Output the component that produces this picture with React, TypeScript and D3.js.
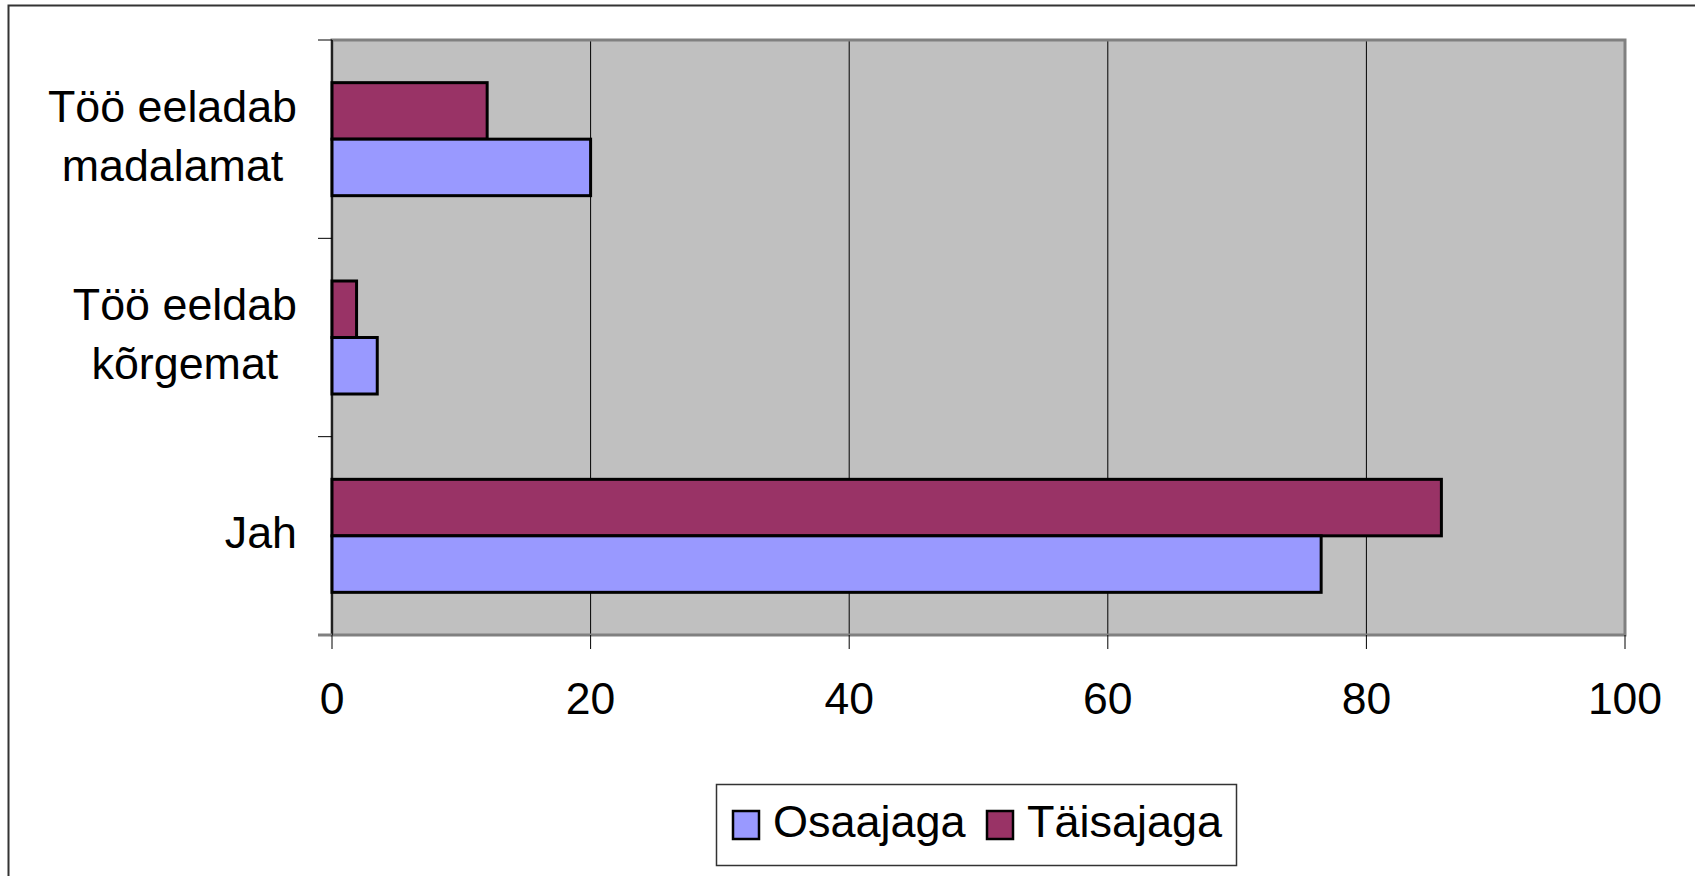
import React from "react";
import * as d3 from "d3";

const categories = ["Töö eeladab\nmadalamat", "Töö eeldab\nkõrgemat", "Jah"];
const seriesNames = ["Täisajaga", "Osaajaga"];
const osaajaga = [20, 3.5, 76.5];
const taisajaga = [12, 1.9, 85.8];
const xTicks = [0, 20, 40, 60, 80, 100];
const legendOrder = ["Osaajaga", "Täisajaga"];

const colors: Record<string, string> = { Osaajaga: "#9999FF", Täisajaga: "#993366" };
const values: Record<string, number[]> = { Osaajaga: osaajaga, Täisajaga: taisajaga };

const FONT = "'Liberation Sans', Arial, sans-serif";

function measure(text: string, size: number): number {
  const c = document.createElement("canvas");
  const ctx = c.getContext("2d")!;
  ctx.font = `${size}px 'Liberation Sans', Arial, sans-serif`;
  return ctx.measureText(text).width;
}

export default function App() {
  const W = 1695, H = 876;
  const left = 332, right = 1625, top = 40, bottom = 635;
  const x = d3.scaleLinear().domain([0, 100]).range([left, right]);
  const y = d3.scaleBand<string>().domain(categories).range([top, bottom]).padding(0);
  const bw = y.bandwidth();
  const inner = d3.scaleBand<string>().domain(seriesNames).range([0, bw]).paddingInner(0).paddingOuter(0.755);
  const fs = 44.8;
  const lineGap = 59;
  const labelRight = 297;

  return (
    <svg width={W} height={H} style={{ position: "absolute", left: 0, top: 0 }} fontFamily={FONT}>
      <rect x={0} y={0} width={W} height={H} fill="#fff" />
      <rect x={8.5} y={5.5} width={1800} height={1000} fill="none" stroke="#333" strokeWidth={2} />
      {/* plot area */}
      <rect x={left} y={top} width={right - left} height={bottom - top} fill="#C0C0C0" />
      {xTicks.slice(1, -1).map((t) => (
        <line key={"g" + t} x1={x(t)} x2={x(t)} y1={top} y2={bottom} stroke="#000" strokeWidth={1} />
      ))}
      <rect x={left} y={top} width={right - left} height={bottom - top} fill="none" stroke="#808080" strokeWidth={3} />
      {/* bars */}
      {categories.map((c, i) =>
        seriesNames.map((s) => (
          <rect
            key={c + s}
            x={x(0)}
            y={(y(c) as number) + (inner(s) as number)}
            width={x(values[s][i]) - x(0)}
            height={inner.bandwidth()}
            fill={colors[s]}
            stroke="#000"
            strokeWidth={3}
          />
        ))
      )}
      {/* category axis */}
      <line x1={left} x2={left} y1={top} y2={bottom} stroke="#000" strokeWidth={1.5} />
      {[...categories.map((c) => y(c) as number), bottom].map((v, i) => (
        <line key={"yt" + i} x1={318} x2={left} y1={v} y2={v} stroke={i === categories.length ? "#808080" : "#000"} strokeWidth={i === categories.length ? 3 : 1} />
      ))}
      {/* x ticks */}
      {xTicks.map((t) => (
        <g key={"xt" + t}>
          <line x1={x(t)} x2={x(t)} y1={bottom} y2={649} stroke="#000" strokeWidth={1} />
          <text x={x(t)} y={714} fontSize={44.5} textAnchor="middle" fill="#000">{t}</text>
        </g>
      ))}
      {/* category labels */}
      {categories.map((c) => {
        const lines = c.split("\n");
        const maxW = Math.max(...lines.map((l) => measure(l, fs)));
        const cx = labelRight - maxW / 2;
        const center = (y(c) as number) + bw / 2;
        const n = lines.length;
        return lines.map((l, j) => (
          <text key={c + j} x={cx} y={center + 12 + (j - (n - 1) / 2) * lineGap} fontSize={fs} textAnchor="middle" fill="#000">
            {l}
          </text>
        ));
      })}
      {/* legend */}
      <rect x={716.5} y={784.5} width={520} height={81} fill="#fff" stroke="#333" strokeWidth={1.5} />
      {legendOrder.map((s, i) => {
        const sx = i === 0 ? 733 : 987;
        const tx = i === 0 ? 773 : 1027;
        return (
          <g key={"lg" + s}>
            <rect x={sx} y={811} width={26} height={28} fill={colors[s]} stroke="#000" strokeWidth={2.5} />
            <text x={tx} y={837} fontSize={45} fill="#000">{s}</text>
          </g>
        );
      })}
    </svg>
  );
}
